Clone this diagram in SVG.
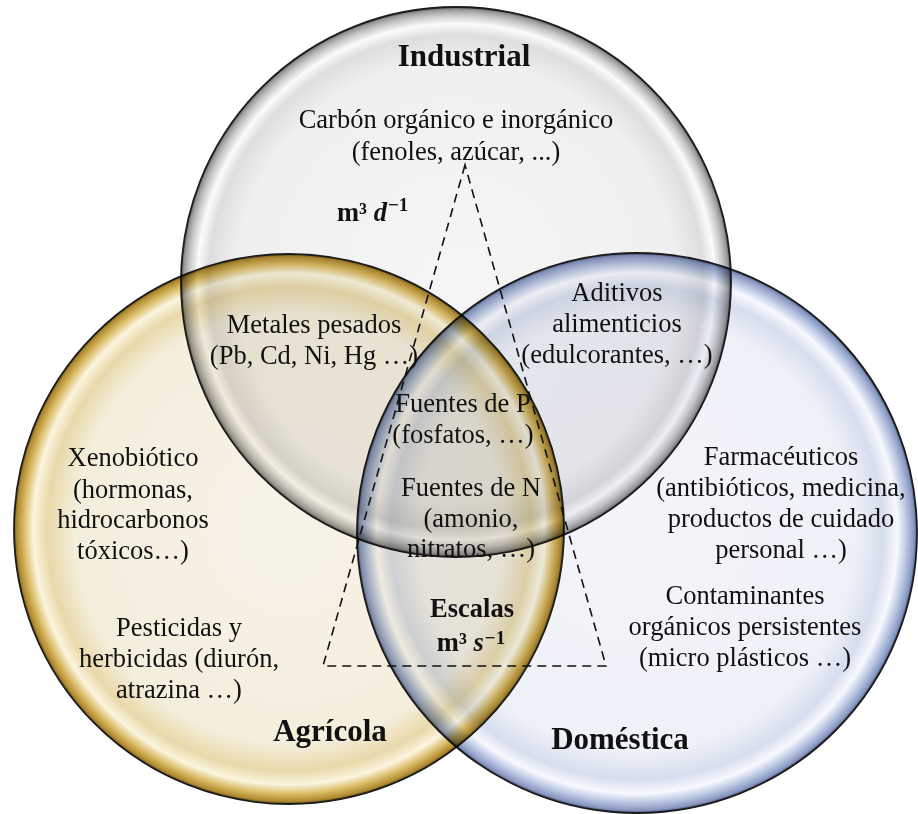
<svg xmlns="http://www.w3.org/2000/svg" width="918" height="814" viewBox="0 0 918 814">
<style>
.circ{mix-blend-mode:multiply;stroke:#1c1c1c;stroke-width:1.8}
.t{font-family:"Liberation Serif","Times New Roman",serif;font-size:26.5px;fill:#111;text-anchor:middle}
.h{font-weight:bold;font-size:31px}
.b{font-weight:bold}
.sup{font-size:19px}
.tri{fill:none;stroke:#111;stroke-width:1.6;stroke-dasharray:9 6}
</style>
<defs>
<radialGradient id="gInd" cx="50%" cy="50%" r="50%">
<stop offset="0" stop-color="#f6f6f6"/>
<stop offset="0.8" stop-color="#f0f0f0"/>
<stop offset="0.9" stop-color="#dedede"/>
<stop offset="0.94" stop-color="#fbfbfb"/>
<stop offset="0.97" stop-color="#c9c9c9"/>
<stop offset="0.99" stop-color="#9a9a9a"/>
<stop offset="1" stop-color="#555555"/>
</radialGradient>
<radialGradient id="gAgr" cx="50%" cy="50%" r="50%">
<stop offset="0" stop-color="#f7f3e8"/>
<stop offset="0.78" stop-color="#f4eedc"/>
<stop offset="0.88" stop-color="#e9d9aa"/>
<stop offset="0.93" stop-color="#fbf5de"/>
<stop offset="0.965" stop-color="#d9b963"/>
<stop offset="0.99" stop-color="#b08a30"/>
<stop offset="1" stop-color="#6a5218"/>
</radialGradient>
<radialGradient id="gDom" cx="50%" cy="50%" r="50%">
<stop offset="0" stop-color="#f4f5fa"/>
<stop offset="0.78" stop-color="#eff1f8"/>
<stop offset="0.88" stop-color="#d6ddee"/>
<stop offset="0.93" stop-color="#f8f9fe"/>
<stop offset="0.965" stop-color="#b6c3e1"/>
<stop offset="0.99" stop-color="#8897c0"/>
<stop offset="1" stop-color="#4a5580"/>
</radialGradient>
</defs>
<rect width="918" height="814" fill="#ffffff"/>
<g id="industrial">
<circle class="circ" cx="456" cy="282" r="275" fill="url(#gInd)"/>
</g>
<g id="agricola">
<circle class="circ" cx="289" cy="529" r="275" fill="url(#gAgr)"/>
</g>
<g id="domestica">
<circle class="circ" cx="637" cy="533" r="280" fill="url(#gDom)"/>
</g>
<g id="scale-triangle">
<polygon class="tri" points="465,165 323,666 606,666"/>
</g>
<g id="labels">
<g id="title-industrial"><text class="t h" x="464" y="66">Industrial</text></g>
<g id="title-agricola"><text class="t h" x="330" y="741">Agrícola</text></g>
<g id="title-domestica"><text class="t h" x="620" y="749">Doméstica</text></g>
<g id="carbon">
<text class="t" x="456" y="128">Carbón orgánico e inorgánico</text>
<text class="t" x="456" y="160">(fenoles, azúcar, ...)</text>
</g>
<g id="scale-day">
<text class="t b" x="337" y="221" style="text-anchor:start">m³ <tspan font-style="italic">d</tspan><tspan class="sup" dx="1" dy="-10">−1</tspan></text>
</g>
<g id="aditivos">
<text class="t" x="617" y="301">Aditivos</text>
<text class="t" x="617" y="332">alimenticios</text>
<text class="t" x="617" y="363">(edulcorantes, …)</text>
</g>
<g id="metales">
<text class="t" x="314" y="333">Metales pesados</text>
<text class="t" x="314" y="364">(Pb, Cd, Ni, Hg …)</text>
</g>
<g id="fuentes-p">
<text class="t" x="463" y="412">Fuentes de P</text>
<text class="t" x="463" y="443">(fosfatos, …)</text>
</g>
<g id="fuentes-n">
<text class="t" x="471" y="496">Fuentes de N</text>
<text class="t" x="471" y="527">(amonio,</text>
<text class="t" x="471" y="557">nitratos, …)</text>
</g>
<g id="xenobiotico">
<text class="t" x="133" y="466">Xenobiótico</text>
<text class="t" x="133" y="498">(hormonas,</text>
<text class="t" x="133" y="528">hidrocarbonos</text>
<text class="t" x="133" y="559">tóxicos…)</text>
</g>
<g id="pesticidas">
<text class="t" x="179" y="636">Pesticidas y</text>
<text class="t" x="179" y="667">herbicidas (diurón,</text>
<text class="t" x="179" y="698">atrazina …)</text>
</g>
<g id="farmaceuticos">
<text class="t" x="781" y="465">Farmacéuticos</text>
<text class="t" x="781" y="496">(antibióticos, medicina,</text>
<text class="t" x="781" y="527">productos de cuidado</text>
<text class="t" x="781" y="558">personal …)</text>
</g>
<g id="contaminantes">
<text class="t" x="745" y="604">Contaminantes</text>
<text class="t" x="745" y="635">orgánicos persistentes</text>
<text class="t" x="745" y="666">(micro plásticos …)</text>
</g>
<g id="escalas">
<text class="t b" x="472" y="617">Escalas</text>
<text class="t b" x="471" y="651">m³ <tspan font-style="italic">s</tspan><tspan class="sup" dx="1" dy="-7">−1</tspan></text>
</g>
</g>
</svg>
